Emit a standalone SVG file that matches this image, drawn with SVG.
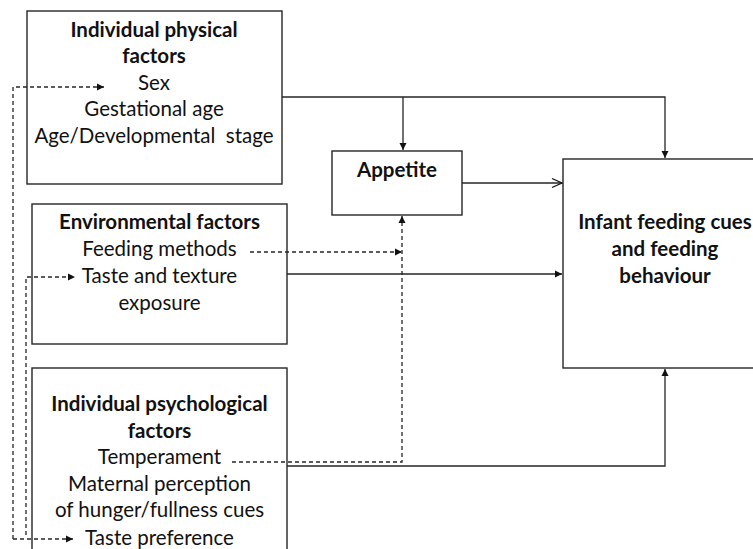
<svg xmlns="http://www.w3.org/2000/svg" width="753" height="549" viewBox="0 0 753 549">
<style>
.box{fill:#fff;stroke:#262626;stroke-width:1.4}
.t{font-family:Lato,"Open Sans","Liberation Sans",sans-serif;font-size:20.5px;fill:#111;text-anchor:middle}
.b{font-weight:bold}
.ln{fill:none;stroke:#262626;stroke-width:1.3}
.dl{fill:none;stroke:#262626;stroke-width:1.3;stroke-dasharray:4 3}
</style>
<defs>
<marker id="ah" markerWidth="8" markerHeight="8" refX="7" refY="4" orient="auto" markerUnits="userSpaceOnUse">
<path d="M0,0.5 L7,4 L0,7.5 Z" fill="#111"/>
</marker>
<marker id="oh" markerWidth="12" markerHeight="12" refX="11" refY="6" orient="auto" markerUnits="userSpaceOnUse">
<path d="M1,1.5 L11,6 L1,10.5" fill="none" stroke="#111" stroke-width="1.3"/>
</marker>
</defs>
<rect width="753" height="549" fill="#fff"/>
<g id="physical">
<rect class="box" x="27" y="11" width="255" height="173"/>
<text class="t b" x="154" y="37">Individual physical</text>
<text class="t b" x="154" y="63">factors</text>
<text class="t" x="154" y="90">Sex</text>
<text class="t" x="154" y="116">Gestational age</text>
<text class="t" x="154" y="143" xml:space="preserve">Age/Developmental  stage</text>
</g>
<g id="environmental">
<rect class="box" x="32" y="204" width="255" height="140"/>
<text class="t b" x="159.5" y="229">Environmental factors</text>
<text class="t" x="159.5" y="256">Feeding methods</text>
<text class="t" x="159.5" y="283">Taste and texture</text>
<text class="t" x="159.5" y="310">exposure</text>
</g>
<g id="psychological">
<rect class="box" x="32" y="368" width="255" height="190"/>
<text class="t b" x="159.5" y="411">Individual psychological</text>
<text class="t b" x="159.5" y="438">factors</text>
<text class="t" x="159.5" y="464">Temperament</text>
<text class="t" x="159.5" y="491">Maternal perception</text>
<text class="t" x="159.5" y="517">of hunger/fullness cues</text>
<text class="t" x="159.5" y="545">Taste preference</text>
</g>
<g id="appetite">
<rect class="box" x="332" y="151" width="130" height="64"/>
<text class="t b" x="397" y="177">Appetite</text>
</g>
<g id="infant">
<rect class="box" x="563" y="159" width="200" height="209"/>
<text class="t b" x="665" y="229">Infant feeding cues</text>
<text class="t b" x="665" y="256">and feeding</text>
<text class="t b" x="665" y="283">behaviour</text>
</g>
<g id="connectors">
<path class="ln" d="M282,97 H665 V158" marker-end="url(#ah)"/>
<path class="ln" d="M403,97 V150" marker-end="url(#ah)"/>
<path class="ln" d="M462,183 H562" marker-end="url(#oh)"/>
<path class="ln" d="M287,274 H562" marker-end="url(#ah)"/>
<path class="ln" d="M287,466 H665 V369" marker-end="url(#ah)"/>
<path class="dl" d="M250,252 H402" marker-end="url(#ah)"/>
<path class="dl" d="M232,462 H402 V216" marker-end="url(#ah)"/>
<path class="dl" d="M13,539 V87 H104" marker-end="url(#ah)"/>
<path class="dl" d="M26,535 V277 H75" marker-end="url(#ah)"/>
<path class="dl" d="M13,539 H73" marker-end="url(#ah)"/>
</g>
</svg>
